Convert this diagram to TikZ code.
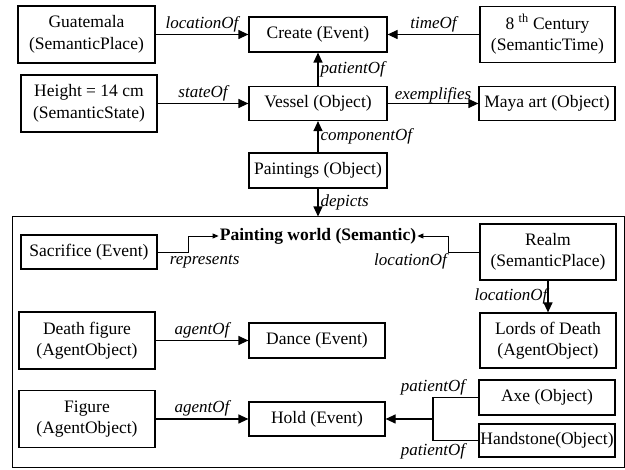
\documentclass[tikz,border=0pt]{standalone}
\usepackage{fontspec}
\setmainfont{Liberation Serif}
\usetikzlibrary{arrows.meta}

\begin{document}
\begin{tikzpicture}[x=1pt,y=-1pt,
  box/.style={draw, line width=1.2pt, align=center, inner sep=1pt,
    font=\fontsize{17.5}{21.5}\selectfont},
  lbl/.style={font=\fontsize{17}{20}\selectfont\itshape, inner sep=2pt},
  arr/.style={line width=1.2pt, -{Triangle[length=10pt,width=9pt]}},
  thin arr/.style={line width=0.9pt, -{Triangle[length=6pt,width=5pt]}}]
\useasboundingbox (0,0) rectangle (625,470);
% upper part
\node [box, minimum width=137, minimum height=57] (guat) at (86.5,34.5) {Guatemala\\(SemanticPlace)};
\node [box, minimum width=138, minimum height=35] (create) at (318,34.5) {Create (Event)};
\node [box, minimum width=135, minimum height=56] (century) at (547.5,34.5) {8 \textsuperscript{th} Century\\(SemanticTime)};
\node [box, minimum width=136, minimum height=57] (height) at (89,103.5) {Height = 14 cm\\(SemanticState)};
\node [box, minimum width=138, minimum height=34] (vessel) at (318,103.5) {Vessel (Object)};
\node [box, minimum width=136, minimum height=34] (maya) at (547,103.5) {Maya art (Object)};
\node [box, minimum width=138, minimum height=35] (paint) at (318,170.5) {Paintings (Object)};
\draw [arr] (guat) -- node [lbl, above] {locationOf} (create);
\draw [arr] (century) -- node [lbl, above] {timeOf} (create);
\draw [arr] (height) -- node [lbl, above] {stateOf} (vessel);
\draw [arr] (vessel) -- node [lbl, above, inner sep=0pt] {exemplifies} (maya);
\draw [arr] (vessel) -- node [lbl, right] {patientOf} (create);
\draw [arr] (paint) -- node [lbl, right] {componentOf} (vessel);
% painting world
\node [draw, line width=1pt, minimum width=612, minimum height=251, inner sep=0pt] (world) at (318,342.5) {};
\draw [arr] (paint) -- node [lbl, right] {depicts} (paint |- world.north);
\node [font=\fontsize{17.5}{21.5}\selectfont\bfseries, inner sep=1pt] (pworld) at (318,236) {Painting world (Semantic)};
\node [box, minimum width=136, minimum height=34] (sacr) at (89,252) {Sacrifice (Event)};
\node [box, minimum width=136, minimum height=56] (realm) at (548,252) {Realm\\(SemanticPlace)};
\node [box, minimum width=136, minimum height=55] (lords) at (548,340.5) {Lords of Death\\(AgentObject)};
\node [box, minimum width=136, minimum height=57] (death) at (87,340.5) {Death figure\\(AgentObject)};
\node [box, minimum width=136, minimum height=35] (dance) at (317,340.5) {Dance (Event)};
\node [box, minimum width=136, minimum height=57] (fig) at (87,419) {Figure\\(AgentObject)};
\node [box, minimum width=136, minimum height=34] (hold) at (317,419) {Hold (Event)};
\node [box, minimum width=136, minimum height=35] (axe) at (547,397.5) {Axe (Object)};
\node [box, minimum width=136, minimum height=33] (hand) at (547,440.5) {Handstone(Object)};
\draw [thin arr] (sacr.east) -- ++(31,0) node [lbl, below, xshift=16] {represents} |- (pworld.west);
\draw [thin arr] (realm.west) -- ++(-31,0) node [lbl, below left, inner sep=1pt] {locationOf} |- (pworld.east);
\draw [arr] (realm) -- node [lbl, left, inner sep=0pt] {locationOf} (lords);
\draw [arr] (death) -- node [lbl, above] {agentOf} (dance);
\draw [arr] (fig) -- node [lbl, above] {agentOf} (hold);
\coordinate (br) at (433,419);
\draw [line width=1.2pt] (axe.west) -| node [lbl, above, pos=0.5] {patientOf} (br);
\draw [line width=1.2pt] (hand.west) -| node [lbl, below, pos=0.5] {patientOf} (br);
\draw [arr] (br) -- (hold);
\end{tikzpicture}
\end{document}
